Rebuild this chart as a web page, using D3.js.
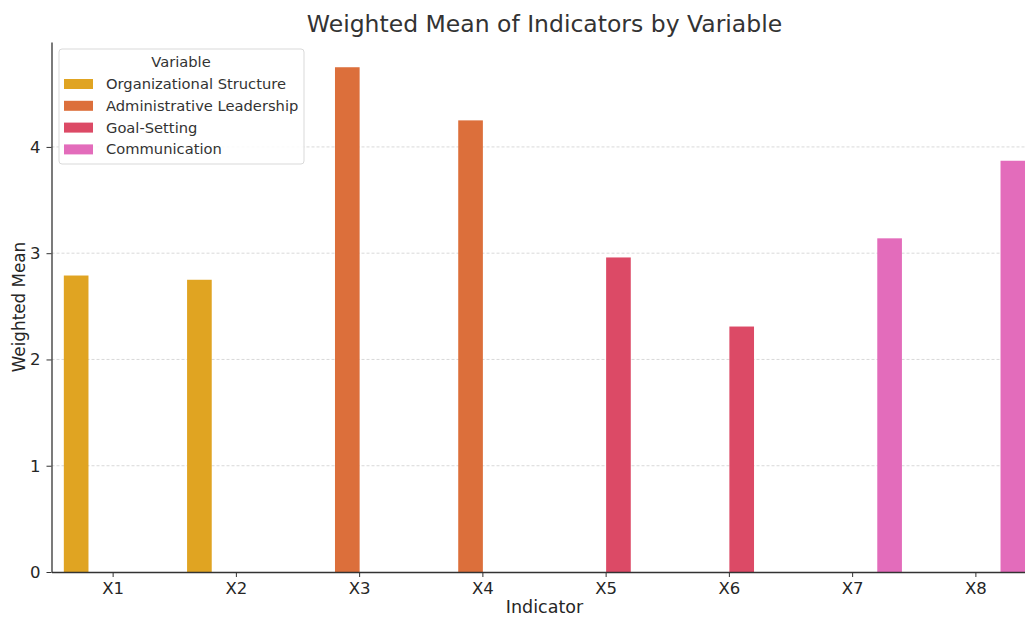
<!DOCTYPE html>
<html>
<head>
<meta charset="utf-8">
<script src="https://cdn.jsdelivr.net/npm/d3@7"></script>
<style>
  body { margin: 0; background: #fff; }
  svg { font-family: "DejaVu Sans", sans-serif; }
</style>
</head>
<body>
<svg id="chart"></svg>
<script>
// Data
const indicators = ["X1", "X2", "X3", "X4", "X5", "X6", "X7", "X8"];
const variables = ["Organizational Structure", "Administrative Leadership", "Goal-Setting", "Communication"];
const indicatorVariable = ["Organizational Structure", "Organizational Structure",
  "Administrative Leadership", "Administrative Leadership",
  "Goal-Setting", "Goal-Setting", "Communication", "Communication"];
const weightedMeans = [2.79, 2.75, 4.75, 4.25, 2.96, 2.31, 3.14, 3.87];
const yTicks = [0, 1, 2, 3, 4];
const colors = ["#e0a422", "#dc6f3b", "#dc4a66", "#e36cbb"];

/*
 * Layout, roughly matching a matplotlib figure that got cropped on the right
 */
const dimensions = {
  width: 1025,
  height: 617,
  left: 51.5,
  right: 1037.5,
  top: 42,
  bottom: 572
};

const rows = indicators.map((ind, i) => ({
  indicator: ind,
  variable: indicatorVariable[i],
  value: weightedMeans[i]
}));

const svg = d3.select("#chart")
    .attr("width", dimensions.width)
    .attr("height", dimensions.height);

// one band per indicator, 0.8 of it split among the hues (seaborn style)
let x = d3.scaleBand()
    .domain(indicators)
    .range([dimensions.left, dimensions.right])
    .paddingInner(0)
    .paddingOuter(0);

let hue = d3.scaleBand()
    .domain(variables)
    .range([x.bandwidth() * 0.1, x.bandwidth() * 0.9]);

let color = d3.scaleOrdinal().domain(variables).range(colors);

let y = d3.scaleLinear()
    .domain([0, d3.max(weightedMeans) * 1.05])
    .range([dimensions.bottom, dimensions.top]);

// dashed grid
svg.append("g")
    .selectAll("line")
    .data(yTicks.slice(1))
    .join("line")
    .attr("x1", dimensions.left)
    .attr("x2", dimensions.right)
    .attr("y1", d => y(d))
    .attr("y2", d => y(d))
    .attr("stroke", "#cfcfcf")
    .attr("stroke-width", 0.8)
    .attr("stroke-dasharray", "3,2");

// bars
svg.append("g")
    .selectAll("rect")
    .data(rows)
    .join("rect")
    .attr("x", d => x(d.indicator) + hue(d.variable))
    .attr("width", hue.bandwidth())
    .attr("y", d => y(d.value))
    .attr("height", d => y(0) - y(d.value))
    .attr("fill", d => color(d.variable));

// axes
let xAxis = g => g
    .attr("transform", `translate(0, ${dimensions.bottom})`)
    .call(d3.axisBottom(x).tickSize(5).tickPadding(5).tickSizeOuter(0))
    .call(g => g.select(".domain").attr("stroke", "#333").attr("stroke-width", 1.3))
    .call(g => g.selectAll(".tick line").attr("stroke", "#333"))
    .call(g => g.selectAll(".tick text").attr("fill", "#262626")
        .style("font-size", "16.5px").style("font-family", "DejaVu Sans"));

let yAxis = g => g
    .attr("transform", `translate(${dimensions.left}, 0)`)
    .call(d3.axisLeft(y).tickValues(yTicks).tickFormat(d3.format("d"))
        .tickSize(5).tickPadding(6).tickSizeOuter(0))
    .call(g => g.select(".domain").attr("stroke", "#333").attr("stroke-width", 1.3))
    .call(g => g.selectAll(".tick line").attr("stroke", "#333"))
    .call(g => g.selectAll(".tick text").attr("fill", "#262626")
        .style("font-size", "16.5px").style("font-family", "DejaVu Sans"));

svg.append("g").call(xAxis);
svg.append("g").call(yAxis);

// titles
const midX = (dimensions.left + dimensions.right) / 2;

svg.append("text")
    .attr("x", midX)
    .attr("y", 32)
    .attr("text-anchor", "middle")
    .attr("fill", "#333")
    .style("font-size", "23.5px")
    .text("Weighted Mean of Indicators by Variable");

svg.append("text")
    .attr("x", midX)
    .attr("y", 613)
    .attr("text-anchor", "middle")
    .attr("fill", "#262626")
    .style("font-size", "17.5px")
    .text("Indicator");

svg.append("text")
    .attr("transform", `translate(25, ${(dimensions.top + dimensions.bottom) / 2}) rotate(-90)`)
    .attr("text-anchor", "middle")
    .attr("fill", "#262626")
    .style("font-size", "16.8px")
    .text("Weighted Mean");

// legend
const legend = svg.append("g").attr("transform", "translate(59, 49)");

legend.append("rect")
    .attr("width", 245)
    .attr("height", 115)
    .attr("rx", 3)
    .attr("fill", "rgba(255,255,255,0.85)")
    .attr("stroke", "#d9d9d9");

legend.append("text")
    .attr("x", 122)
    .attr("y", 18)
    .attr("text-anchor", "middle")
    .attr("fill", "#333")
    .style("font-size", "14.7px")
    .text("Variable");

const entry = legend.selectAll("g.entry")
    .data(variables)
    .join("g")
    .attr("class", "entry")
    .attr("transform", (d, i) => `translate(0, ${35 + i * 21.8})`);

entry.append("rect")
    .attr("x", 5)
    .attr("y", -5)
    .attr("width", 29)
    .attr("height", 10)
    .attr("fill", d => color(d));

entry.append("text")
    .attr("x", 47)
    .attr("y", 5)
    .attr("fill", "#333")
    .style("font-size", "14.7px")
    .text(d => d);
</script>
</body>
</html>
